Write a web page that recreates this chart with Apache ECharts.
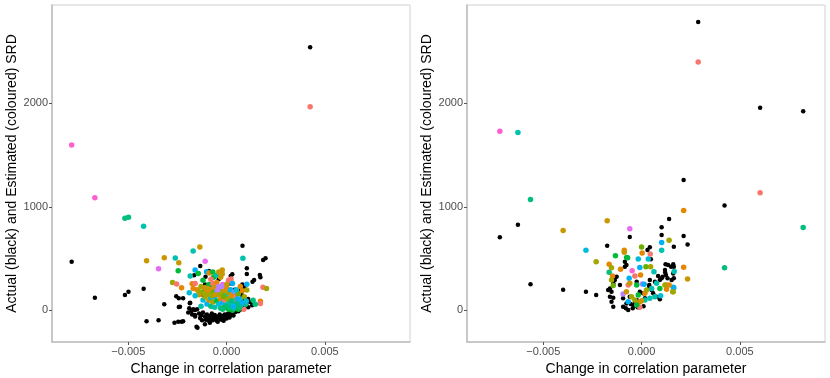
<!DOCTYPE html>
<html>
<head>
<meta charset="utf-8">
<script src="https://cdn.jsdelivr.net/npm/echarts@6/dist/echarts.min.js"></script>
<style>
  html, body { margin: 0; padding: 0; background: #fff; }
  #chart { width: 830px; height: 378px; }
</style>
</head>
<body>
<div id="chart"></div>
<script>
// tick positions and labels (shared by both panels)
var xTickValues = [-0.005, 0, 0.005];
var xTickLabels = ['\u22120.005', '0.000', '0.005'];
var yTickValues = [0, 1000, 2000];
var yTickLabels = ['0', '1000', '2000'];

// hue palette for the coloured (estimated) groups
var groupColors = ['#F8766D', '#E58700', '#C99800', '#A3A500', '#6BB100', '#00BA38', '#00BF7D',
                   '#00C0AF', '#00BCD8', '#00B0F6', '#619CFF', '#B983FF', '#E76BF3', '#FD61D1'];

// left panel: actual SRD (black) [change, srd]
var leftActual = [
  [0.00425, 2541], [-0.00788, 470], [-0.0067, 122], [-0.00517, 148], [-0.00499, 180], [-0.00422, 209],
  [-0.00407, -106], [-0.00346, -97], [-0.00317, 58], [-0.00265, -120], [-0.00246, -110], [-0.00221, -106],
  [-0.00256, 135], [-0.00243, 116], [-0.00243, 32], [-0.00185, 73], [-0.00148, -168], [-0.0011, -135],
  [-0.00134, 428], [0.00081, 624], [0.00198, 502], [0.00186, 486], [0.00103, 406], [0.00103, 351],
  [0.0014, 293], [0.00132, 276], [0.00169, 341], [0.00172, 320], [-0.00165, 338], [-0.00107, 325],
  [0.00029, 348], [0.00021, 332], [-0.00221, 116], [-0.00237, 35], [-0.00187, 68], [-0.00161, 3],
  [-0.00161, -45], [-0.00229, -110], [-0.00153, -158],
  [-0.0019, 20], [-0.0018, -10], [-0.00175, -40], [-0.0016, -60], [-0.0015, 10], [-0.0014, -30],
  [-0.00135, -75], [-0.0013, -50], [-0.0012, -20], [-0.0011, -60], [-0.00105, -90], [-0.001, -40],
  [-0.00095, -75], [-0.0009, -100], [-0.00085, -55], [-0.0008, -85], [-0.00075, -30], [-0.0007, -95],
  [-0.00065, -65], [-0.0006, -45], [-0.00055, -80], [-0.0005, -100], [-0.00045, -60], [-0.0004, -85],
  [-0.00035, -40], [-0.0003, -70], [-0.00025, -90], [-0.0002, -55], [-0.00015, -75], [-0.0001, -40],
  [-0.00005, -60], [0, -80], [0.00005, -35], [0.0001, -55], [0.00015, -20], [0.0002, -45],
  [0.00025, -10], [0.0003, -30], [0.00035, 0], [0.0004, 20], [0.00045, -15], [0.0005, 10],
  [-0.0012, 150], [-0.001, 220], [-0.0008, 250], [-0.0006, 180], [-0.0004, 300], [0.0002, 260],
  [0.0004, 200], [0.0005, 150], [0.0006, 100], [0.0007, 200], [0.00075, 160], [0.0008, 130],
  [0.0009, 220], [0.0008, 250], [0.0006, 60], [0.0007, 40], [0.0009, 90], [0.001, 60],
  [0.0011, 110], [0.0012, 80], [0.0013, 50], [-0.0009, 380], [-0.0011, 250],
  [-0.00125, -95], [-0.00085, -120], [-0.00045, -110], [-0.00015, -100], [0.00015, -70], [0.00035, -50],
  [0.0006, -10], [0.00075, 10], [0.0009, 30], [0.0011, 30], [-0.00195, -20], [-0.0017, 10]
];

// left panel: estimated SRD (coloured) [change, srd, group]
var leftEstimated = [
  [0.00425, 1967, 0], [-0.00788, 1597, 13], [-0.0067, 1088, 13], [-0.00517, 889, 6], [-0.00499, 899, 6],
  [-0.00422, 812, 7], [-0.00407, 479, 2], [-0.00317, 508, 2], [-0.00346, 402, 12], [-0.00261, 505, 7],
  [-0.00243, 460, 2], [-0.00246, 383, 5], [-0.0017, 573, 7], [-0.00136, 612, 2], [0.00083, 502, 7],
  [-0.00109, 473, 12], [0.00185, 222, 0], [0.00203, 212, 3], [0.00172, 88, 1], [0.00172, 66, 0],
  [0.00135, 97, 6], [0.00146, 58, 6], [0.00103, 251, 9], [0.00103, 196, 3], [0.00097, 58, 6],
  [0.00088, 10, 0], [-0.00185, 331, 7], [-0.0016, 389, 9], [-0.00144, 357, 5], [-0.00102, 373, 9],
  [-0.00275, 270, 3], [-0.00254, 254, 0], [-0.00229, 218, 1], [-0.00175, 257, 1], [-0.00066, 319, 5],
  [-0.00022, 389, 2], [0.00023, 302, 0], [0.0001, 276, 3], [-0.00022, 350, 2], [-0.00088, 360, 1],
  [-0.0015, 200, 1], [-0.0014, 150, 2], [-0.0013, 230, 3], [-0.0012, 180, 4], [-0.0012, 100, 8],
  [-0.0011, 220, 2], [-0.0011, 130, 3], [-0.001, 60, 9], [-0.001, 190, 1], [-0.0009, 250, 5],
  [-0.0009, 150, 3], [-0.0009, 100, 2], [-0.0008, 200, 1], [-0.0008, 40, 6], [-0.0008, 120, 8],
  [-0.0007, 260, 0], [-0.0007, 170, 4], [-0.0007, 80, 3], [-0.0006, 220, 2], [-0.0006, 130, 9],
  [-0.0006, 30, 7], [-0.0005, 180, 10], [-0.0005, 90, 5], [-0.0005, 270, 1], [-0.0004, 150, 2],
  [-0.0004, 60, 8], [-0.0004, 230, 11], [-0.0003, 200, 3], [-0.0003, 110, 1], [-0.0003, 20, 6],
  [-0.0002, 250, 12], [-0.0002, 160, 4], [-0.0002, 70, 9], [-0.0001, 190, 2], [-0.0001, 100, 0],
  [-0.0001, 30, 5], [0, 220, 1], [0, 140, 8], [0, 50, 6], [0.0001, 170, 3], [0.0001, 80, 7],
  [0.0001, 10, 5], [0.0002, 200, 9], [0.0002, 120, 2], [0.0002, 40, 6], [0.0003, 150, 1],
  [0.0003, 70, 8], [0.0003, 0, 5], [0.0004, 180, 10], [0.0004, 100, 3], [0.0004, 20, 7],
  [0.0005, 130, 0], [0.0005, 60, 9], [0.0006, 160, 4], [0.0006, 80, 6], [0.0006, 10, 5],
  [0.0007, 110, 8], [0.0007, 40, 7], [0.0008, 190, 1], [0.0008, 70, 9], [0.0009, 130, 3],
  [0.001, 90, 8], [-0.0013, 40, 7], [-0.0016, 140, 8], [-0.0017, 210, 1], [-0.0016, 260, 0],
  [-0.0012, 290, 5], [-0.0008, 300, 0], [-0.0005, 340, 7], [-0.0003, 320, 2], [0.0001, 290, 0],
  [0.0003, 260, 9], [-0.0004, 370, 2], [-0.0014, 180, 3], [-0.0019, 170, 8], [-0.0002, 10, 6],
  [0.0005, 200, 8], [0.0007, 230, 1], [-0.0007, 370, 5], [0, 250, 2],
  [-0.00115, 160, 3], [-0.00095, 210, 2], [-0.00075, 140, 3], [-0.00055, 150, 2], [-0.00035, 170, 3],
  [-0.00015, 130, 4], [0.00005, 110, 3], [0.00025, 90, 6], [0.00045, 50, 6], [0.00065, 30, 6],
  [0.00015, 30, 6], [-0.00045, 200, 11], [-0.00025, 230, 11], [0.00035, 40, 9], [0.00055, 110, 9]
];

// right panel: actual SRD (black)
var rightActual = [
  [0.00288, 2786], [0.00603, 1958], [0.00822, 1923], [0.00214, 1259], [0.00422, 1014], [0.0014, 882],
  [0.00102, 802], [-0.00629, 827], [-0.00721, 705], [-0.00565, 251], [-0.00399, 199], [-0.00283, 180],
  [-0.00231, 148], [-0.00175, 624], [-0.0006, 708], [0.00214, 718], [0.00234, 637], [0.00102, 727],
  [0.00164, 615], [0.00042, 609], [0.0003, 583], [0.00047, 493], [-0.00085, 470], [-0.00077, 438],
  [-0.00085, 421], [0.00122, 444], [0.00135, 438], [0.00161, 444], [0.00164, 421], [0.00107, 325],
  [0.00084, 331], [0.00102, 309], [0.00093, 293], [0.00068, 276], [0.00042, 293], [0.00039, 244],
  [-0.00025, 276], [-0.00034, 331], [-0.00127, 325], [-0.00136, 293], [-0.00144, 261], [-0.00161, 212],
  [-0.0017, 196], [-0.00153, 180], [-0.00161, 131], [-0.00144, 122], [-0.00153, 83], [-0.00144, 35],
  [-0.0011, 244], [-0.00094, 116], [-0.00077, 67], [-0.00094, 35], [-0.00068, 3], [-0.0006, 131],
  [-0.00025, 99], [-0.00034, 67], [-0.00009, 180], [0.00008, 164], [0.00017, 116], [0.00051, 196],
  [0.00059, 164], [0.00076, 131], [0.00093, 106], [0.00039, 228], [0.00132, 309], [0.00124, 341],
  [0.00153, 293], [0.00164, 309], [0.00119, 389], [0.00161, 357], [0.0012, 365], [0.0015, 420],
  [-0.00045, 20], [-0.0004, 45], [-0.0002, 30], [-0.0008, 20], [-0.00055, 60], [0.0001, 40]
];

// right panel: estimated SRD (coloured)
var rightEstimated = [
  [0.00288, 2400, 0], [-0.00721, 1731, 13], [-0.00629, 1718, 7], [-0.00565, 1070, 6], [0.00603, 1135, 0],
  [0.00822, 801, 6], [0.00422, 412, 6], [0.00214, 965, 1], [-0.00175, 866, 2], [-0.00399, 772, 2],
  [-0.0006, 788, 12], [0.0014, 676, 3], [0.00102, 656, 9], [0.00102, 580, 7], [-0.00283, 580, 8],
  [-0.00231, 470, 3], [-0.00133, 528, 5], [-0.00088, 580, 1], [-0.00088, 560, 2], [-0.00076, 510, 5],
  [0, 612, 4], [0.00003, 555, 1], [0.00044, 545, 0], [0.00034, 495, 8], [-0.00017, 495, 8],
  [0.00214, 416, 1], [0.00234, 303, 2], [0.00166, 375, 7], [0.00164, 218, 9], [0.00158, 180, 3],
  [0.00125, 245, 2], [-0.00165, 444, 1], [-0.00107, 396, 1], [-0.00165, 367, 6], [-0.00153, 412, 3],
  [-0.00148, 331, 1], [-0.00153, 293, 3], [-0.00144, 241, 4], [0.00022, 421, 4], [0.00046, 421, 3],
  [-0.00009, 415, 9], [0.00063, 373, 7], [-0.00048, 383, 13], [-0.00034, 331, 0], [-0.00005, 341, 1],
  [-0.00063, 309, 9], [0.00003, 254, 11], [-0.00025, 244, 5], [0.00013, 251, 9], [0.00051, 212, 7],
  [0.00076, 261, 7], [0.00093, 212, 5], [0.00127, 203, 1], [0.00161, 222, 9], [0.00161, 180, 3],
  [0.00097, 141, 8], [0.00068, 131, 7], [0.00042, 116, 7], [0.00017, 99, 7], [-0.00009, 83, 1],
  [0, 93, 2], [-0.00022, 67, 1], [-0.00034, 99, 3], [-0.00009, 29, 0], [-0.00025, 51, 5],
  [-0.00068, 83, 9], [-0.00094, 157, 11], [-0.00077, 180, 2], [-0.00068, 244, 0], [-0.0006, 261, 2],
  [-0.00051, 131, 3], [-0.00017, 148, 5], [0.00017, 164, 1], [0.00025, 196, 3], [0.00119, 244, 3],
  [0.0014, 244, 1], [-0.00071, 508, 5]
];

var xMin = -0.00888, xMax = 0.00933;
var yMin = -306, yMax = 2950;

function makeX(gi) {
  return {
    type: 'value', gridIndex: gi, min: xMin, max: xMax,
    name: 'Change in correlation parameter', nameLocation: 'middle', nameGap: 19,
    nameTextStyle: { color: '#000', fontSize: 14, fontFamily: 'Liberation Sans' },
    splitLine: { show: false },
    axisLine: { show: true, onZero: false, lineStyle: { color: '#BEBEBE', width: 1.5 } },
    axisTick: { show: true, length: 3, customValues: xTickValues, lineStyle: { color: '#555' } },
    axisLabel: {
      customValues: xTickValues, margin: 4, color: '#4D4D4D', fontSize: 11, fontFamily: 'Liberation Sans',
      formatter: function (v) { return xTickLabels[xTickValues.indexOf(v)]; }
    }
  };
}
function makeY(gi) {
  return {
    type: 'value', gridIndex: gi, min: yMin, max: yMax,
    name: 'Actual (black) and Estimated (coloured) SRD', nameLocation: 'middle', nameGap: 33,
    nameTextStyle: { color: '#000', fontSize: 14, fontFamily: 'Liberation Sans' },
    splitLine: { show: false },
    axisLine: { show: true, onZero: false, lineStyle: { color: '#BEBEBE', width: 1.5 } },
    axisTick: { show: true, length: 3, customValues: yTickValues, lineStyle: { color: '#555' } },
    axisLabel: {
      customValues: yTickValues, margin: 4, color: '#4D4D4D', fontSize: 11, fontFamily: 'Liberation Sans',
      formatter: function (v) { return yTickLabels[yTickValues.indexOf(v)]; }
    }
  };
}
function actualSeries(data, gi) {
  return {
    type: 'scatter', xAxisIndex: gi, yAxisIndex: gi, data: data, symbolSize: 4.5,
    itemStyle: { color: '#000', opacity: 1 }, z: 2, animation: false
  };
}
function estimatedSeries(data, gi) {
  return {
    type: 'scatter', xAxisIndex: gi, yAxisIndex: gi, data: data, symbolSize: 5.5,
    itemStyle: { opacity: 1, color: function (p) { return groupColors[p.data[2]]; } },
    z: 3, animation: false
  };
}

var chart = echarts.init(document.getElementById('chart'));
chart.setOption({
  backgroundColor: '#fff',
  animation: false,
  grid: [
    { left: 52, right: 420, top: 5, bottom: 36, show: true, borderColor: '#D0D0D0', borderWidth: 1, outerBoundsMode: 'none' },
    { left: 467, right: 5, top: 5, bottom: 36, show: true, borderColor: '#D0D0D0', borderWidth: 1, outerBoundsMode: 'none' }
  ],
  xAxis: [makeX(0), makeX(1)],
  yAxis: [makeY(0), makeY(1)],
  series: [
    actualSeries(leftActual, 0), estimatedSeries(leftEstimated, 0),
    actualSeries(rightActual, 1), estimatedSeries(rightEstimated, 1)
  ]
});
</script>
</body>
</html>
